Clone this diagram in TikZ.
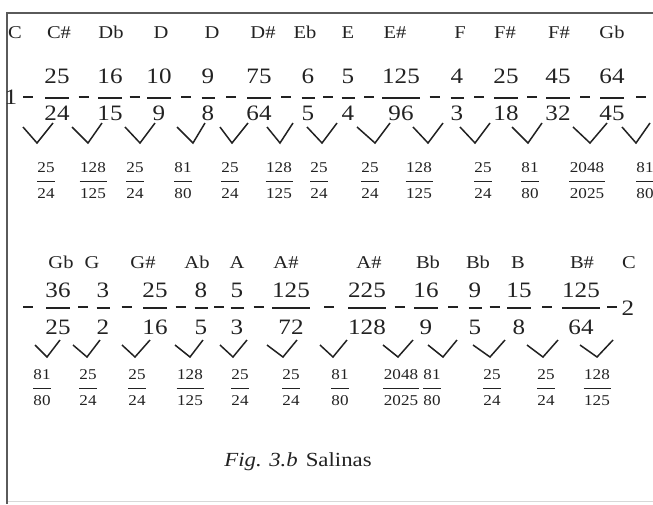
\documentclass[tikz,border=0pt]{standalone}
\usepackage{fontspec}
\setmainfont{Liberation Serif}[FakeStretch=1.14]
\definecolor{ink}{HTML}{222222}
\definecolor{framecol}{HTML}{5A5A5A}
\definecolor{faint}{HTML}{D8D8D8}
\begin{document}
\begin{tikzpicture}[x=1pt,y=-1pt,
  notename/.style={font=\fontsize{18}{18}\selectfont, text=ink, inner sep=0pt, anchor=base},
  numtxt/.style={font=\fontsize{22}{22}\selectfont, text=ink, inner sep=0pt},
  ivtxt/.style={font=\fontsize{15}{15}\selectfont, text=ink, inner sep=0pt},
  captxt/.style={font=\fontsize{20}{20}\selectfont, text=ink, inner sep=0pt},
  fbar/.style={draw=ink, line width=1.1pt},
  ibar/.style={draw=ink, line width=0.9pt},
  dashseg/.style={draw=ink, line width=1.3pt},
  vmark/.style={draw=ink, line width=1.5pt, line join=miter},
  framel/.style={draw=framecol, line width=2pt}]
\useasboundingbox[fill=white] (0,0) rectangle (653,504);
\clip (0,0) rectangle (653,504);
% frame
\draw[framel] (6,13) -- (653,13);
\draw[framel] (7,12) -- (7,504);
\draw[draw=faint, line width=0.8pt] (8,501) -- (653,501);

% ---------------- row 1 ----------------
\foreach \x/\t [count=\i] in {15/C, 59/C\#, 111/Db, 161/D, 212/D, 263/D\#, 305/Eb, 348/E, 395/E\#, 460/F, 505/F\#, 559/F\#, 612/Gb}
  \node[notename] (na-\i) at (\x,38) {\t};
\node[numtxt] (one) at (11,97) {1};
\foreach \x/\n/\d/\w [count=\i] in {57/25/24/12, 110/16/15/12, 159/10/9/12, 208/9/8/6.5, 259/75/64/12, 308/6/5/6.5, 348/5/4/6.5, 401/125/96/19, 457/4/3/6.5, 506/25/18/12, 558/45/32/12, 612/64/45/12}{
  \node[numtxt] (fa-\i-n) at (\x,76) {\n};
  \node[numtxt] (fa-\i-d) at (\x,113) {\d};
  \draw[fbar] (\x-\w,98) -- (\x+\w,98);
}
\foreach \x in {28, 83.5, 134.5, 186, 231, 286, 328, 369, 434.5, 479, 532, 585, 641}
  \draw[dashseg] (\x-5,97) -- (\x+5,97);
\foreach \l/\v/\r in {23/37/53, 72/88/102, 125/140/155, 177/193/205, 220/232/248, 267/280/293, 307/322/337, 357/375/390, 413/428/443, 460/475/490, 512/528/542, 573/590/607, 622/636/650}
  \draw[vmark] (\l,127) -- (\v,143) -- (\r,123);
\foreach \x/\n/\d/\w [count=\i] in {46/25/24/9, 93/128/125/13.5, 135/25/24/9, 183/81/80/9, 230/25/24/9, 279/128/125/13.5, 319/25/24/9, 370/25/24/9, 419/128/125/13.5, 483/25/24/9, 530/81/80/9, 587/2048/2025/18, 645/81/80/9}{
  \node[ivtxt] (ia-\i-n) at (\x,168) {\n};
  \node[ivtxt] (ia-\i-d) at (\x,194) {\d};
  \draw[ibar] (\x-\w,181) -- (\x+\w,181);
}

% ---------------- row 2 ----------------
\foreach \x/\t [count=\i] in {61/Gb, 92/G, 143/G\#, 197/Ab, 237/A, 286/A\#, 369/A\#, 428/Bb, 478/Bb, 518/B, 582/B\#, 629/C}
  \node[notename] (nb-\i) at (\x,268) {\t};
\foreach \x/\n/\d/\w [count=\i] in {58/36/25/12, 103/3/2/6.5, 155/25/16/12, 201/8/5/6.5, 237/5/3/6.5, 291/125/72/19, 367/225/128/19, 426/16/9/12, 475/9/5/6.5, 519/15/8/12, 581/125/64/19}{
  \node[numtxt] (fb-\i-n) at (\x,290) {\n};
  \node[numtxt] (fb-\i-d) at (\x,327) {\d};
  \draw[fbar] (\x-\w,308) -- (\x+\w,308);
}
\node[numtxt] (two) at (628,308) {2};
\foreach \x in {28, 83, 126.5, 180.5, 219, 258.5, 329, 399.5, 453, 494.5, 547, 612}
  \draw[dashseg] (\x-5,307) -- (\x+5,307);
\foreach \l/\v/\r in {35/47/60, 73/87/100, 122/135/150, 175/190/203, 220/233/247, 267/283/297, 320/333/347, 383/398/413, 428/443/457, 473/490/505, 527/543/558, 580/597/613}
  \draw[vmark] (\l,345) -- (\v,357) -- (\r,340);
\foreach \x/\n/\d/\w [count=\i] in {42/81/80/9, 88/25/24/9, 137/25/24/9, 190/128/125/13.5, 240/25/24/9, 291/25/24/9, 340/81/80/9, 401/2048/2025/18, 432/81/80/9, 492/25/24/9, 546/25/24/9, 597/128/125/13.5}{
  \node[ivtxt] (ib-\i-n) at (\x,375) {\n};
  \node[ivtxt] (ib-\i-d) at (\x,401) {\d};
  \draw[ibar] (\x-\w,388) -- (\x+\w,388);
}

% caption
\node[captxt] (cap) at (298,462) {\textit{Fig. 3.b}\hspace{8pt}Salinas};
\end{tikzpicture}
\end{document}
